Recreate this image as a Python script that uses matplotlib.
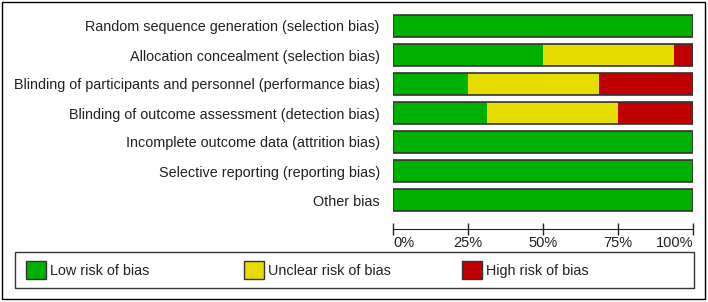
import matplotlib
matplotlib.use("Agg")
import matplotlib.pyplot as plt
from matplotlib.patches import Rectangle
import numpy as np

plt.rcParams['font.family'] = ['Liberation Sans', 'DejaVu Sans']

domains = [
    "Random sequence generation (selection bias)",
    "Allocation concealment (selection bias)",
    "Blinding of participants and personnel (performance bias)",
    "Blinding of outcome assessment (detection bias)",
    "Incomplete outcome data (attrition bias)",
    "Selective reporting (reporting bias)",
    "Other bias",
]
low = [100, 50, 25, 31.25, 100, 100, 100]
unclear = [0, 43.75, 43.75, 43.75, 0, 0, 0]
high = [0, 6.25, 31.25, 25, 0, 0, 0]
series_names = ["Low risk of bias", "Unclear risk of bias", "High risk of bias"]
colors = ["#00b000", "#e6dc00", "#c00000"]
tick_vals = [0, 25, 50, 75, 100]
tick_labels = ["0%", "25%", "50%", "75%", "100%"]

W, H = 708, 302
fig = plt.figure(figsize=(W / 100, H / 100), dpi=100)

def fx(px):
    return px / W

def fy(py):
    return 1 - py / H

# outer frame
fig.patches.append(Rectangle((fx(2), fy(299)), fx(703), 297 / H, transform=fig.transFigure,
                             fill=False, edgecolor="black", linewidth=1.0))

# main axes
top_px, bot_px = 11.5, 229
ax = fig.add_axes([fx(393), fy(bot_px), fx(300), (bot_px - top_px) / H])
y = np.arange(len(domains))
left = np.zeros(len(domains))
for vals, c in zip([low, unclear, high], colors):
    ax.barh(y, vals, left=left, height=0.75, color=c, edgecolor="none")
    left = left + np.array(vals)
ax.barh(y, left, height=0.75, fill=False, edgecolor="#333333", linewidth=1.2)
ax.set_xlim(0, 100)
ax.set_ylim((bot_px - 26) / 29, -0.5)
ax.set_yticks(y)
ax.set_yticklabels(domains, fontsize=10.4)
ax.tick_params(axis='y', length=0, pad=9.5, colors="#222222")
ax.set_xticks(tick_vals)
ax.set_xticklabels(tick_labels, fontsize=10.5)
ax.tick_params(axis='x', direction='inout', length=8, width=1, pad=1, colors="#222222")
xl = ax.get_xticklabels()
xl[0].set_ha("left")
xl[-1].set_ha("right")
for s in ["top", "right", "left"]:
    ax.spines[s].set_visible(False)
ax.spines["bottom"].set_color("#222222")

# legend box
fig.patches.append(Rectangle((fx(15), fy(288)), fx(679), 36 / H, transform=fig.transFigure,
                             fill=False, edgecolor="#333333", linewidth=1.0))
sw_x = [26, 244, 462]
for name, c, sx in zip(series_names, colors, sw_x):
    fig.patches.append(Rectangle((fx(sx), fy(279)), fx(20), 18 / H, transform=fig.transFigure,
                                 facecolor=c, edgecolor="#333333", linewidth=1.0))
    fig.text(fx(sx + 24), fy(271), name, fontsize=10.4, va="center", ha="left", color="#222222")

fig.savefig("out.png", dpi=100)
